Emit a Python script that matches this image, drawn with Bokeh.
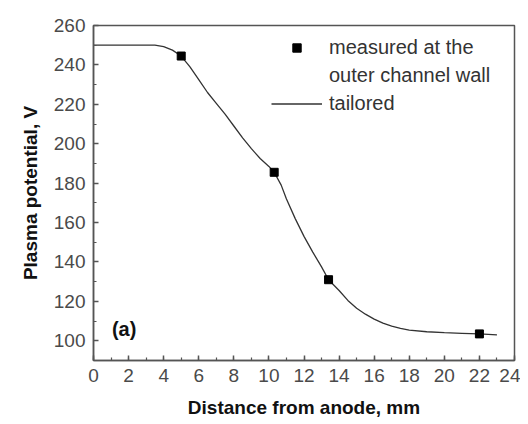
from bokeh.plotting import figure
from bokeh.models import (Range1d, SingleIntervalTicker, Legend, LegendItem, Label,
                          ColumnDataSource)
from bokeh.embed import file_html
from bokeh.resources import INLINE

# Measured points (outer channel wall)
meas_x = [5.0, 10.3, 13.4, 22.0]
meas_y = [244.5, 185.5, 131.0, 103.5]

# Tailored profile
tail_x = [0, 1, 2, 3, 3.5, 4, 4.5, 5, 5.5, 6, 6.5, 7, 7.5, 8, 8.5, 9, 9.5, 10, 10.3,
          10.7, 11, 11.5, 12, 12.5, 13, 13.4, 14, 14.5, 15, 15.5, 16, 16.5, 17, 17.5,
          18, 19, 20, 21, 22, 23]
tail_y = [250, 250, 250, 250, 250, 249.3, 247.5, 244.5, 239, 232.5, 226, 220.5, 215,
          209, 203, 197.5, 192.5, 188.5, 185.5, 179, 172, 162, 153, 145, 137.5, 131,
          125.5, 120.5, 116.5, 113.5, 111, 109, 107.5, 106.3, 105.4, 104.6, 104.1, 103.8,
          103.5, 103]

x_label = "Distance from anode, mm"
y_label = "Plasma potential, V"
legend_labels = ["measured at the", "outer channel wall", "tailored"]
panel_tag = "(a)"

FONT = "Liberation Sans"
AX = "#555555"

p = figure(width=520, height=424, output_backend="svg", toolbar_location=None,
           x_range=Range1d(0, 24), y_range=Range1d(90, 260),
           min_border_left=93, min_border_right=6, min_border_top=25, min_border_bottom=64)
p.grid.visible = False
p.outline_line_color = AX
p.outline_line_width = 1.5

p.xaxis.ticker = SingleIntervalTicker(interval=2, num_minor_ticks=2)
p.yaxis.ticker = SingleIntervalTicker(interval=20, num_minor_ticks=2)
for ax in (p.xaxis[0], p.yaxis[0]):
    ax.axis_line_color = AX
    ax.axis_line_width = 1.5
    ax.major_tick_line_color = AX
    ax.minor_tick_line_color = AX
    ax.major_tick_line_width = 1.5
    ax.minor_tick_line_width = 1.2
    ax.major_tick_in = 5
    ax.major_tick_out = 0
    ax.minor_tick_in = 3
    ax.minor_tick_out = 0
    ax.major_label_text_font = FONT
    ax.major_label_text_font_size = "19px"
    ax.major_label_text_color = "#4a4a4a"
    ax.axis_label_text_font = FONT
    ax.axis_label_text_font_size = "19px"
    ax.axis_label_text_font_style = "bold"
    ax.axis_label_text_color = "#111111"
p.xaxis.axis_label = x_label
p.yaxis.axis_label = y_label
p.xaxis.major_label_standoff = 8
p.yaxis.major_label_standoff = 8
p.xaxis.axis_label_standoff = 12
p.yaxis.axis_label_standoff = 10

tail_src = ColumnDataSource(dict(x=tail_x, y=tail_y))
meas_src = ColumnDataSource(dict(x=meas_x, y=meas_y))

r_line = p.line("x", "y", source=tail_src, line_color="#333333", line_width=1.3)
r_meas = p.scatter("x", "y", source=meas_src, marker="square", size=8,
                   fill_color="black", line_color="black")
r_blank = p.scatter(x=[], y=[], marker="square", size=8, fill_alpha=0, line_alpha=0)

legend = Legend(items=[LegendItem(label=legend_labels[0], renderers=[r_meas]),
                       LegendItem(label=legend_labels[1], renderers=[r_blank]),
                       LegendItem(label=legend_labels[2], renderers=[r_line])],
                location=(178, 245), padding=0, margin=0, spacing=5,
                glyph_width=51, glyph_height=21, label_height=21, label_standoff=7,
                label_text_font=FONT, label_text_font_size="20px",
                label_text_color="#333333",
                border_line_alpha=0, background_fill_alpha=0)
p.add_layout(legend)

p.add_layout(Label(x=1.05, y=106, text=panel_tag, text_font=FONT,
                   text_font_size="20px", text_font_style="bold",
                   text_baseline="middle", text_color="#111111"))

open("out.html", "w").write(file_html(p, INLINE))
